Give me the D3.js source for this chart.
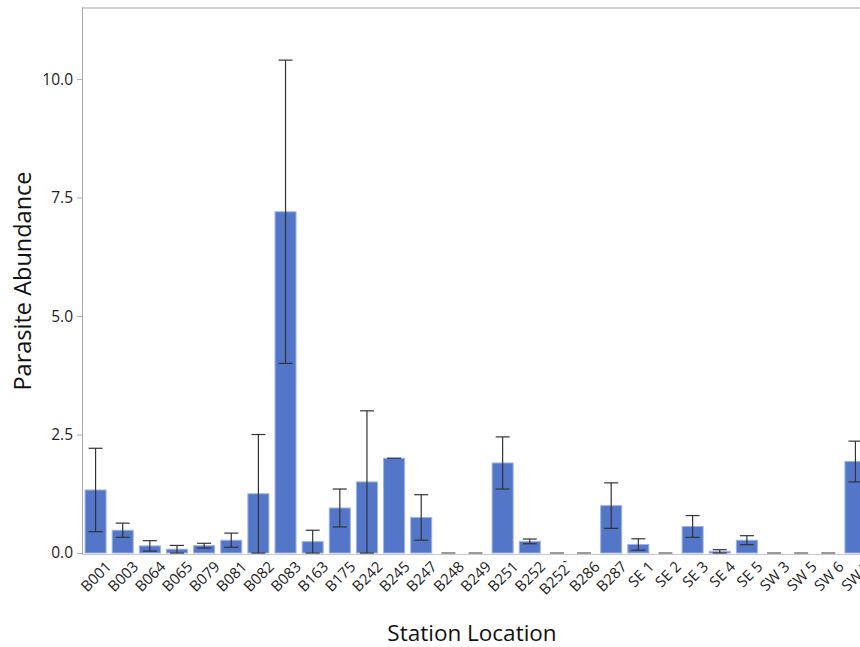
<!DOCTYPE html>
<html><head><meta charset="utf-8">
<script src="https://cdn.jsdelivr.net/npm/d3@7"></script>
<style>body{margin:0;background:#fff;} svg{display:block;font-family:"Open Sans",sans-serif;}</style>
</head><body>
<svg id="c" width="860" height="647"></svg>
<script>
const categories = ["B001","B003","B064","B065","B079","B081","B082","B083","B163","B175","B242","B245","B247","B248","B249","B251","B252","B252`","B286","B287","SE 1","SE 2","SE 3","SE 4","SE 5","SW 3","SW 5","SW 6","SW 7"];
const means = [1.33,0.48,0.15,0.08,0.155,0.27,1.25,7.2,0.24,0.95,1.5,2.0,0.75,0,0,1.9,0.245,0,0,1.0,0.18,0,0.56,0.035,0.27,0,0,0,1.93];
const errors = [0.88,0.15,0.11,0.08,0.05,0.15,1.25,3.2,0.24,0.4,1.5,0,0.48,0,0,0.55,0.05,0,0,0.48,0.12,0,0.23,0.035,0.095,0,0,0,0.43];
const yTicks = [0,2.5,5,7.5,10];

const svg = d3.select("#c");
const mLeft = 82, mRight = 869, mTop = 8, mBottom = 553;
const x = d3.scaleBand().domain(categories).range([mLeft, mRight]).paddingInner(0.225).paddingOuter(0.1125);
const y = d3.scaleLinear().domain([0, 11.5]).range([mBottom, mTop]);

// frame
svg.append("line").attr("x1", mLeft).attr("x2", 860).attr("y1", mTop).attr("y2", mTop).attr("stroke", "#d3d3d3").attr("stroke-width", 2);
svg.append("line").attr("x1", mLeft).attr("x2", 860).attr("y1", mBottom + 1.5).attr("y2", mBottom + 1.5).attr("stroke", "#c8c8c8").attr("stroke-width", 1);

const yAxis = d3.axisLeft(y).tickValues(yTicks).tickFormat(d3.format(".1f")).tickSize(5).tickPadding(4);
const gy = svg.append("g").attr("transform", `translate(${mLeft},0)`).call(yAxis);
gy.select(".domain").attr("stroke", "#aaaaaa").attr("d", `M0.5,${mTop - 1}V${mBottom + 2}`);
gy.selectAll(".tick line").attr("stroke", "#aaaaaa");
gy.selectAll(".tick text").attr("fill", "#222").style("font-size", "15.5px").style("font-family", "'Open Sans',sans-serif");

const xAxis = d3.axisBottom(x).tickSize(0).tickPadding(0);
const gx = svg.append("g").attr("transform", `translate(0,${mBottom})`).call(xAxis);
gx.select(".domain").remove();
gx.selectAll(".tick text")
  .attr("fill", "#222").style("font-size", "15px").style("font-family", "'Open Sans',sans-serif")
  .attr("text-anchor", "end")
  .attr("transform", "translate(9,7) rotate(-45)")
  .attr("dy", "0.72em").attr("y", 0).attr("x", 0);

// bars
svg.append("g").selectAll("rect").data(categories).join("rect")
  .attr("x", d => x(d)).attr("width", x.bandwidth())
  .attr("y", (d, i) => y(means[i])).attr("height", (d, i) => y(0) - y(means[i]))
  .attr("fill", "#5376c8").attr("stroke", "#9db4e6").attr("stroke-width", 1);

// error bars
const eg = svg.append("g").attr("stroke", "#333").attr("stroke-width", 1.2).attr("fill", "none");
categories.forEach((c, i) => {
  const cx = x(c) + x.bandwidth() / 2;
  const lo = Math.max(0, means[i] - errors[i]), hi = means[i] + errors[i];
  const zero = means[i] === 0;
  if (errors[i] > 0) eg.append("line").attr("x1", cx).attr("x2", cx).attr("y1", y(lo)).attr("y2", y(hi));
  eg.append("line").attr("x1", cx - 7).attr("x2", cx + 7).attr("y1", y(hi)).attr("y2", y(hi))
    .attr("stroke", zero ? "#9a9a9a" : "#333").attr("stroke-width", zero ? 2 : 1.2);
  if (errors[i] > 0) eg.append("line").attr("x1", cx - 7).attr("x2", cx + 7).attr("y1", y(lo)).attr("y2", y(lo));
});

svg.append("text").attr("x", 472).attr("y", 641).attr("text-anchor", "middle")
  .style("font-size", "22.5px").attr("fill", "#111").text("Station Location");
svg.append("text").attr("transform", "translate(31,281) rotate(-90)").attr("text-anchor", "middle")
  .style("font-size", "23.5px").attr("fill", "#111").text("Parasite Abundance");
</script>
</body></html>
